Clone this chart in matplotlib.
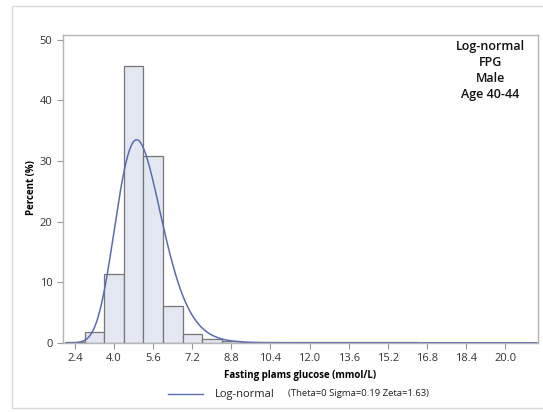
import numpy as np
import matplotlib.pyplot as plt
from matplotlib.patches import Rectangle
from matplotlib.lines import Line2D

plt.rcParams['font.family'] = ['Open Sans', 'DejaVu Sans']

# histogram bins (mmol/L), width 0.8
bin_edges = [2.0, 2.8, 3.6, 4.4, 5.2, 6.0, 6.8, 7.6, 8.4, 9.2, 10.0, 10.8, 11.6,
             12.4, 13.2, 14.0, 14.8, 15.6, 16.4, 17.2, 18.0, 18.8, 19.6, 20.4, 21.2]
percent = [0.1, 1.8, 11.3, 45.7, 30.8, 6.0, 1.5, 0.7, 0.3, 0.1, 0.2, 0.1, 0.05,
           0.2, 0.05, 0.05, 0.15, 0.05, 0.03, 0.03, 0.03, 0.03, 0.03, 0.03]

# fitted log-normal parameters shown in the legend
theta, sigma, zeta = 0.0, 0.19, 1.63

x_ticks = [2.4, 4.0, 5.6, 7.2, 8.8, 10.4, 12.0, 13.6, 15.2, 16.8, 18.4, 20.0]
y_ticks = [0, 10, 20, 30, 40, 50]
info_lines = ['Log-normal', 'FPG', 'Male', 'Age 40-44']

fig = plt.figure(figsize=(5.43, 4.12), dpi=100)
ax = fig.add_axes([0.116, 0.168, 0.875, 0.747])

edges = np.array(bin_edges)
widths = np.diff(edges)
ax.bar(edges[:-1], percent, width=widths, align='edge',
       color='#e2e7f1', edgecolor='#767676', linewidth=0.9)

# log-normal density scaled to percent per bin
xs = np.linspace(2.05, 21.3, 600)
bw = widths[0]
pdf = np.exp(-(np.log(xs - theta) - zeta) ** 2 / (2 * sigma ** 2)) / ((xs - theta) * sigma * np.sqrt(2 * np.pi))
ax.plot(xs, pdf * 100 * bw, color='#5b6cae', linewidth=1.1)

ax.set_xlim(1.91, 21.35)
ax.set_ylim(0, 50.8)
ax.set_xticks(x_ticks)
ax.set_xticklabels([f'{v:.1f}' for v in x_ticks])
ax.set_yticks(y_ticks)
ax.tick_params(colors='#9a9a9a', labelcolor='#333333', labelsize=8, length=4, width=0.8)
for s in ax.spines.values():
    s.set_color('#b5b5b5')
    s.set_linewidth(1.0)

ax.set_xlabel('Fasting plams glucose (mmol/L)', fontsize=7, fontweight='bold', labelpad=4)
ax.set_ylabel('Percent (%)', fontsize=7, fontweight='bold')
ax.yaxis.set_label_coords(-0.055, 0.505)

ax.text(0.9, 0.985, '\n'.join(info_lines), transform=ax.transAxes, ha='center', va='top',
        fontsize=9, fontweight='semibold', linespacing=1.3, color='#111111')

# legend at bottom
fig.add_artist(Line2D([168 / 543, 203 / 543], [1 - 394 / 412] * 2, color='#5b6cae', linewidth=1.0))
fig.text(215 / 543, 1 - 394 / 412, 'Log-normal', fontsize=8, va='center', color='#222222')
fig.text(288 / 543, 1 - 394 / 412, '(Theta=0 Sigma=0.19 Zeta=1.63)', fontsize=6.8, va='center', color='#222222')

# outer frame
fig.add_artist(Rectangle((12 / 543, 1 - 408 / 412), 540 / 543, 402 / 412,
                         transform=fig.transFigure, fill=False, edgecolor='#d8d8d8', linewidth=1.0))

fig.savefig('out.png', dpi=100)
